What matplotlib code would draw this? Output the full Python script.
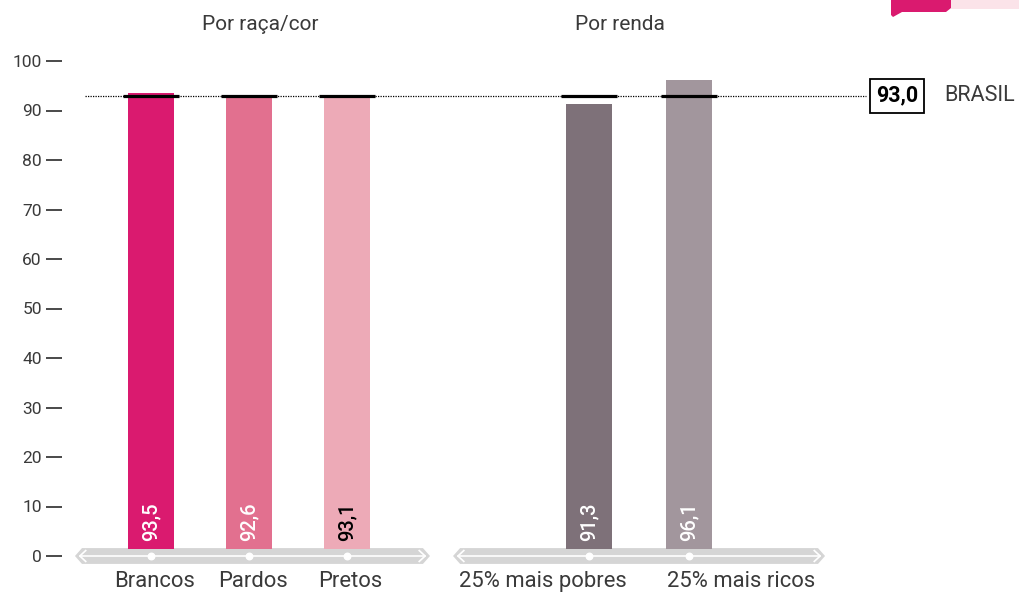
import numpy as np
import matplotlib
matplotlib.use("Agg")
import matplotlib.pyplot as plt
import matplotlib.patches as mpatches

plt.rcParams['font.family'] = ['Roboto', 'DejaVu Sans']

# data
categories = ["Brancos", "Pardos", "Pretos", "25% mais pobres", "25% mais ricos"]
values = [93.5, 92.6, 93.1, 91.3, 96.1]
brasil = 93.0
bar_colors = ["#DA1A6F", "#E2708F", "#EDAAB7", "#7E7179", "#A2969D"]
label_colors = ["white", "white", "black", "white", "white"]
group_titles = ["Por raça/cor", "Por renda"]
yticks = [0, 10, 20, 30, 40, 50, 60, 70, 80, 90, 100]

# layout (x in category units, 1 unit ~ 98 px)
positions = [0, 1, 2, 4.47, 5.49]
cat_label_x = [0.04, 1.04, 2.03, 4.0, 6.02]
group_title_x = [1.11, 4.79]
group_span = [(-0.776, 2.847), (3.082, 6.878)]
text_col = "#3a3a3a"
band_col = "#D5D5D5"

W, H = 1019, 593
fig = plt.figure(figsize=(W / 100, H / 100), dpi=100)
ax = fig.add_axes([62 / W, (H - 556) / H, (W - 62) / W, 495 / H])
ax.set_xlim(-0.908, 8.857)
ax.set_ylim(0, 100)

for s in ax.spines.values():
    s.set_visible(False)
ax.set_xticks([])
ax.set_yticks(yticks)
ax.set_yticklabels([str(t) for t in yticks])
ax.tick_params(axis='y', direction='out', length=11.5, width=1.3, color=text_col,
               pad=3, labelsize=12.5, labelcolor=text_col)

# gray bands with arrows and dots
tip = 0.072
for (x0, x1) in group_span:
    poly = mpatches.Polygon([(x0, 0), (x0 + tip, -1.6), (x1 - tip, -1.6), (x1, 0),
                             (x1 - tip, 1.6), (x0 + tip, 1.6)],
                            closed=True, fc=band_col, ec="none", clip_on=False, zorder=1)
    ax.add_patch(poly)
    ax.plot([x0 + 0.05, x1 - 0.05], [0, 0], color="white", lw=1.2, clip_on=False, zorder=2)
    ax.plot([x0 + 0.11, x0 + 0.05, x0 + 0.11], [1.1, 0, -1.1], color="white", lw=1.2,
            clip_on=False, zorder=2)
    ax.plot([x1 - 0.11, x1 - 0.05, x1 - 0.11], [1.1, 0, -1.1], color="white", lw=1.2,
            clip_on=False, zorder=2)
ax.scatter(positions, [0] * len(positions), s=22, color="white", zorder=3, clip_on=False)

# bars
bar_bottom = 1.45
ax.bar(positions, [v - bar_bottom for v in values], bottom=bar_bottom, width=0.47,
       color=bar_colors, zorder=2)

# brasil reference line
ax.plot([-0.673, 7.3], [brasil, brasil], color="black", lw=0.9, ls=(0, (1, 1)), zorder=3,
        clip_on=False)
for x in positions:
    ax.plot([x - 0.29, x + 0.29], [brasil, brasil], color="black", lw=2.3,
            solid_capstyle="butt", zorder=4)

# value labels
for x, v, c in zip(positions, values, label_colors):
    ax.text(x, 3.0, f"{v:.1f}".replace(".", ","), rotation=90, ha="center", va="bottom",
            color=c, fontsize=14.5, fontweight="medium", zorder=5)

# category labels
for x, c in zip(cat_label_x, categories):
    ax.text(x, -5.1, c, ha="center", va="center", fontsize=15.8, color=text_col, clip_on=False)

# group titles
for x, t in zip(group_title_x, group_titles):
    ax.text(x, 107.4, t, ha="center", va="center", fontsize=15, color=text_col, clip_on=False)

# brasil box
ax.text(7.61, brasil, f"{brasil:.1f}".replace(".", ","), ha="center", va="center",
        fontsize=15.5, fontweight="bold", color="black", clip_on=False,
        bbox=dict(boxstyle="square,pad=0.28", fc="white", ec="black", lw=1.3))
ax.text(8.09, brasil, "BRASIL", ha="left", va="center", fontsize=15.5, color=text_col,
        clip_on=False)

# decoration at the top right
def px(x, y):
    return (x / W, 1 - y / H)

fig.patches.append(mpatches.Polygon([px(951, 0), px(1019, 0), px(1019, 9), px(951, 9)],
                                    closed=True, fc="#FBE3E9", ec="none",
                                    transform=fig.transFigure))
fig.patches.append(mpatches.Polygon([px(891, 0), px(951, 0), px(951, 8), px(946, 12),
                                     px(902, 12), px(893, 17), px(891, 15)],
                                    closed=True, fc="#DA1A6F", ec="none",
                                    transform=fig.transFigure))

fig.savefig("out.png", dpi=100)
